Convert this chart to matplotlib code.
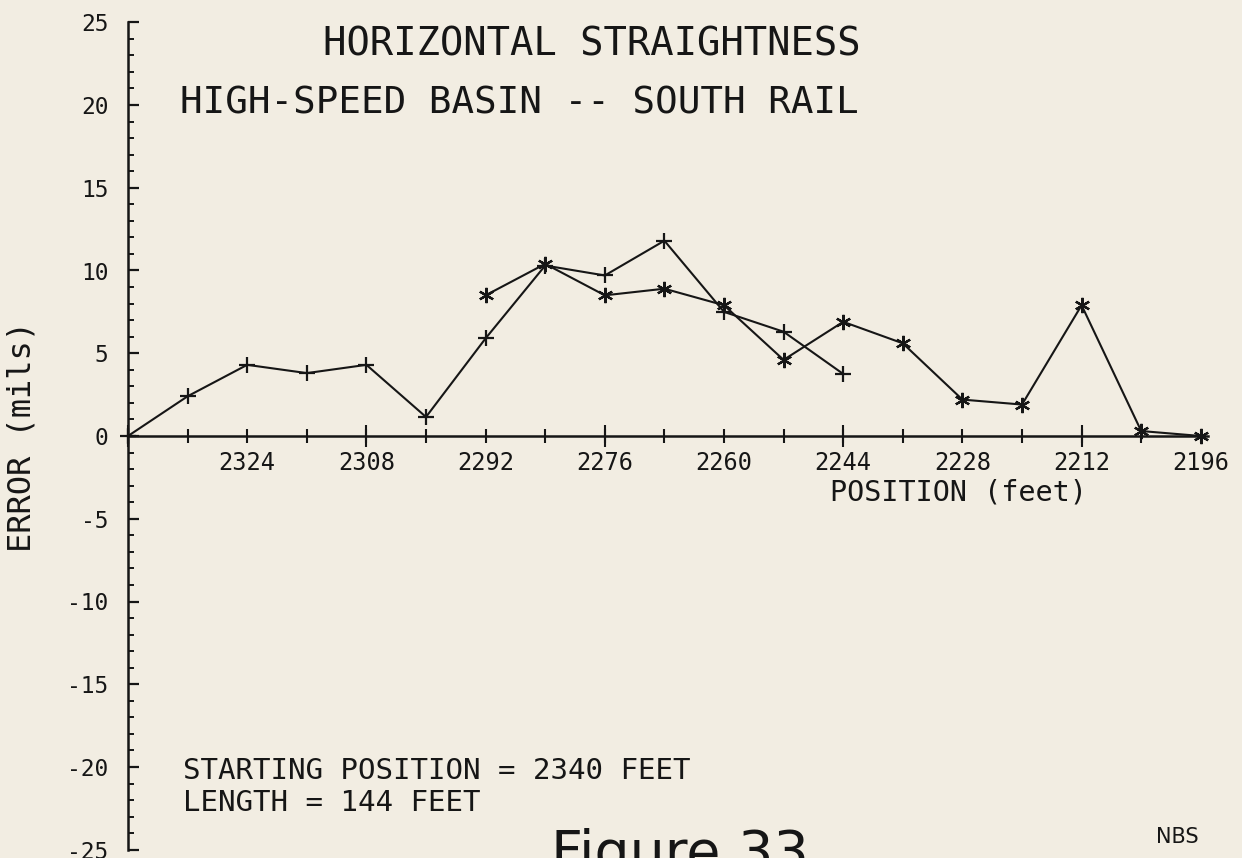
import matplotlib
matplotlib.use("Agg")
import numpy as np
import matplotlib.pyplot as plt
from matplotlib.ticker import FixedLocator, FuncFormatter

# Run 1: measured from 2340 ft toward 2244 ft, every 8 ft
pos_run1 = [2340, 2332, 2324, 2316, 2308, 2300, 2292, 2284, 2276, 2268, 2260, 2252, 2244]
err_run1 = [0.0, 2.4, 4.3, 3.8, 4.3, 1.15, 5.9, 10.3, 9.7, 11.8, 7.5, 6.3, 3.75]

# Run 2: overlapping segment from 2292 ft toward 2196 ft
pos_run2 = [2292, 2284, 2276, 2268, 2260, 2252, 2244, 2236, 2228, 2220, 2212, 2204, 2196]
err_run2 = [8.5, 10.4, 8.5, 8.9, 7.9, 4.6, 6.9, 5.6, 2.2, 1.9, 7.9, 0.3, 0.0]

x_label_ticks = [2324, 2308, 2292, 2276, 2260, 2244, 2228, 2212, 2196]

INK = "#161616"
PAPER = "#f2ede2"
MONO = "DejaVu Sans Mono"
plt.rcParams["axes.unicode_minus"] = False

W, H = 1242, 858
fig = plt.figure(figsize=(W / 100, H / 100), dpi=100, facecolor=PAPER)
ax = fig.add_axes([0, 0, 1, 1], facecolor=PAPER)

# pixel scale: 7.45 px per foot, 16.55 px per mil; origin at (128, 436)
px_ft, px_mil, x0, y0 = 7.45, 16.55, 128, 436
ax.set_xlim(2340 + x0 / px_ft, 2340 - (W - x0) / px_ft)
ax.set_ylim((y0 - H) / px_mil, y0 / px_mil)

ax.plot(pos_run1, err_run1, color=INK, lw=1.5, marker="+", ms=11, mew=1.6)
ax.plot(pos_run2, err_run2, color=INK, lw=1.5, marker=(6, 2, 0), ms=11, mew=1.6)

# axes drawn through the origin
for side in ("top", "right"):
    ax.spines[side].set_visible(False)
ax.spines["left"].set_position(("data", 2340))
ax.spines["left"].set_bounds(-25, 25)
ax.spines["bottom"].set_position(("data", 0))
ax.spines["bottom"].set_bounds(2340, 2195)
for side in ("left", "bottom"):
    ax.spines[side].set_color(INK)
    ax.spines[side].set_linewidth(1.8)

# y ticks: labelled every 5, small every 1
ax.yaxis.set_major_locator(FixedLocator(np.arange(-25, 26, 5)))
ax.yaxis.set_minor_locator(FixedLocator(np.arange(-25, 26, 1)))
ax.yaxis.set_major_formatter(FuncFormatter(lambda v, p: f"{int(round(v))}"))
ax.tick_params(axis="y", which="major", direction="in", length=8, width=1.6,
               color=INK, labelcolor=INK, labelsize=16.5, pad=14)
ax.tick_params(axis="y", which="minor", direction="in", length=4.5, width=1.4, color=INK)
for lab in ax.get_yticklabels():
    lab.set_fontfamily(MONO)

# x ticks: short every 8 ft, long every 32 ft, labels every 16 ft
ax.xaxis.remove_overlapping_locs = False
ax.xaxis.set_major_locator(FixedLocator(np.arange(2340, 2195, -8)))
ax.xaxis.set_minor_locator(FixedLocator(np.arange(2340, 2195, -32)))
ax.xaxis.set_major_formatter(
    FuncFormatter(lambda v, p: f"{int(round(v))}" if int(round(v)) in x_label_ticks else ""))
ax.tick_params(axis="x", which="major", direction="inout", length=9.5, width=1.5,
               color=INK, labelcolor=INK, labelsize=17, pad=6)
ax.tick_params(axis="x", which="minor", direction="inout", length=16, width=1.5, color=INK)
for lab in ax.get_xticklabels():
    lab.set_fontfamily(MONO)


def fx(px):
    return px / W


def fy(py):
    return 1 - py / H


fig.text(fx(323), fy(44), "HORIZONTAL STRAIGHTNESS", family=MONO, fontsize=28,
         color=INK, ha="left", va="center")
fig.text(fx(180), fy(103), "HIGH-SPEED BASIN -- SOUTH RAIL", family=MONO, fontsize=27,
         color=INK, ha="left", va="center")
fig.text(fx(830), fy(492), "POSITION (feet)", family=MONO, fontsize=20.5,
         color=INK, ha="left", va="center")
fig.text(fx(22), fy(436), "ERROR (mils)", family=MONO, fontsize=23,
         color=INK, ha="center", va="center", rotation=90)
fig.text(fx(183), fy(771), "STARTING POSITION = 2340 FEET", family=MONO, fontsize=21,
         color=INK, ha="left", va="center")
fig.text(fx(183), fy(803), "LENGTH = 144 FEET", family=MONO, fontsize=21,
         color=INK, ha="left", va="center")
fig.text(fx(551), fy(870), "Figure 33", family="DejaVu Sans", fontsize=40,
         color=INK, ha="left", va="baseline")
fig.text(fx(1177), fy(837), "NBS", family="DejaVu Sans", fontsize=15,
         color=INK, ha="center", va="center")

fig.savefig("out.png", dpi=100, facecolor=PAPER)
